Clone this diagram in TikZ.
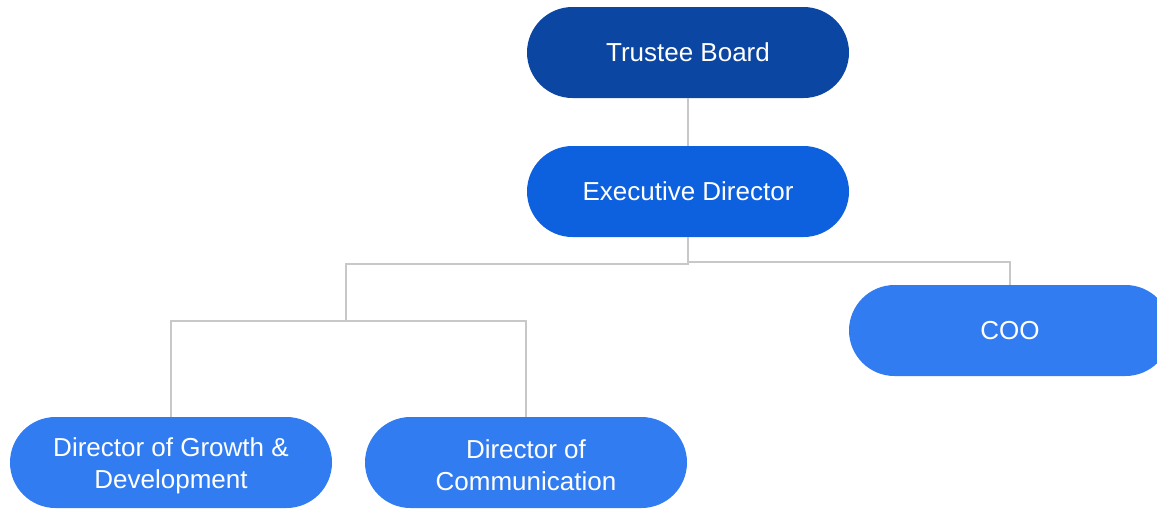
\documentclass[tikz,border=0pt]{standalone}
\usepackage{fontspec}
\setmainfont{Liberation Sans}
\definecolor{tb}{HTML}{0B46A3}
\definecolor{ed}{HTML}{0E61DE}
\definecolor{lb}{HTML}{327CF2}
\definecolor{ln}{HTML}{C8C8C8}
\begin{document}
\begin{tikzpicture}[x=1pt,y=-1pt,
  pill/.style={rectangle, rounded corners=45.5pt, minimum width=322pt, minimum height=91pt,
    text=white, inner sep=0pt, align=center,
    font=\fontsize{26pt}{32pt}\selectfont},
  txt/.style={text=white, inner sep=0pt, align=center,
    font=\fontsize{26pt}{32pt}\selectfont},
  conn/.style={draw=ln, line width=2pt}]
\useasboundingbox (0,0) rectangle (1157,509);
\clip (0,0) rectangle (1157,509);
\node[pill, fill=tb] (tb) at (688,52.5) {Trustee Board};
\node[pill, fill=ed] (ed) at (688,191.5) {Executive Director};
\node[pill, fill=lb] (coo) at (1010,330.5) {COO};
\node[pill, fill=lb] (dgd) at (171,462.5) {};
\node[txt] (dgdt) at (171,465.5) {Director of Growth \&\\Development};
\node[pill, fill=lb] (dc) at (526,462.5) {};
\node[txt] (dct) at (526,465.5) {Director of\\Communication};
\coordinate (j1) at (346,263.5);
\coordinate (j2) at (346,321);
\coordinate (j3) at (1010,261.5);
\draw[conn] (tb.south) -- (ed.north);
\draw[conn] (ed.south) |- (j1) -- (j2);
\draw[conn] (ed.south) |- (j3) -- (coo.north);
\draw[conn] (j2) -| (dgd.north);
\draw[conn] (j2) -| (dc.north);
\end{tikzpicture}
\end{document}
